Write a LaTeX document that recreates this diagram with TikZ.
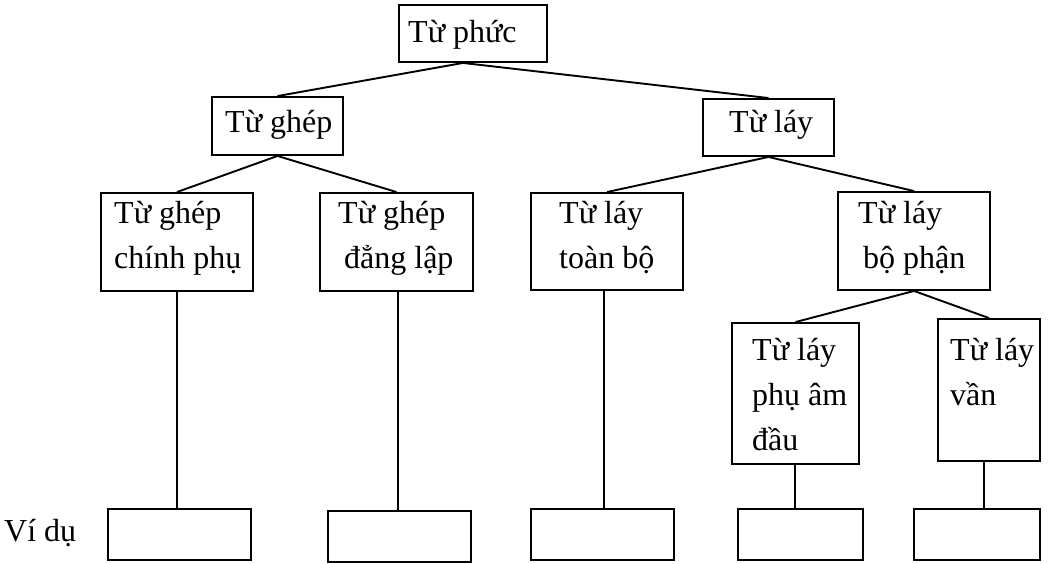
\documentclass[tikz,border=0pt]{standalone}
\usepackage{fontspec}
\setmainfont{Liberation Serif}
\usetikzlibrary{calc}
\begin{document}
\begin{tikzpicture}[x=1pt,y=-1pt,
  box/.style={draw, rectangle, inner sep=0pt, line width=1.9pt},
  txt/.style={inner sep=0pt, anchor=base west, align=left, font=\fontsize{32}{44.8}\selectfont},
  link/.style={line width=1.9pt}]
\useasboundingbox (0,0) rectangle (1062,564);
% boxes
\node[box, minimum width=148pt, minimum height=57pt] (tp) at (473,33.5) {};
\node[box, minimum width=131pt, minimum height=58pt] (tg) at (277.5,126) {};
\node[box, minimum width=131pt, minimum height=57pt] (tl) at (768.5,127.5) {};
\node[box, minimum width=152pt, minimum height=98pt] (cp) at (177,242) {};
\node[box, minimum width=153pt, minimum height=98pt] (dl) at (396.5,242) {};
\node[box, minimum width=152pt, minimum height=97pt] (tb) at (607,241.5) {};
\node[box, minimum width=152pt, minimum height=98pt] (bp) at (914,241) {};
\node[box, minimum width=127pt, minimum height=141pt] (pa) at (795.5,393.5) {};
\node[box, minimum width=102pt, minimum height=142pt] (va) at (989,390) {};
\node[box, minimum width=143pt, minimum height=51pt] (e1) at (179.5,534.5) {};
\node[box, minimum width=143pt, minimum height=51pt] (e2) at (399.5,536.5) {};
\node[box, minimum width=143pt, minimum height=51pt] (e3) at (602.5,534.5) {};
\node[box, minimum width=125pt, minimum height=51pt] (e4) at (800.5,534.5) {};
\node[box, minimum width=126pt, minimum height=51pt] (e5) at (977,534.5) {};
% texts (anchor = baseline of the last line)
\node[txt] (ttp) at (408,42.5) {Từ phức};
\node[txt] (ttg) at (225,132.5) {Từ ghép};
\node[txt] (ttl) at (729,133) {Từ láy};
\node[txt] (tcp) at (114,268) {Từ ghép\\chính phụ};
\node[txt] (tdl) at (338,268) {Từ ghép\\\hspace*{6pt}đẳng lập};
\node[txt] (ttb) at (559,268) {Từ láy\\toàn bộ};
\node[txt] (tbp) at (858,268) {Từ láy\\\hspace*{5pt}bộ phận};
\node[txt] (tpa) at (752,450) {Từ láy\\phụ âm\\đầu};
\node[txt] (tva) at (950,405) {Từ láy\\vần};
\node[txt] (vd) at (4,541.7) {Ví dụ};
% connectors
\draw[link] ($(tp.south)+(-10,0)$) -- (tg.north);
\draw[link] ($(tp.south)+(-10,0)$) -- (tl.north);
\draw[link] (tg.south) -- (cp.north);
\draw[link] (tg.south) -- (dl.north);
\draw[link] (tl.south) -- (tb.north);
\draw[link] (tl.south) -- (bp.north);
\draw[link] (bp.south) -- (pa.north);
\draw[link] (bp.south) -- (va.north);
\draw[link] (cp.south) -- (cp.south |- e1.north);
\draw[link] ($(dl.south)+(1.5,0)$) -- ($(dl.south |- e2.north)+(1.5,0)$);
\draw[link] ($(tb.south)+(-3,0)$) -- ($(tb.south |- e3.north)+(-3,0)$);
\draw[link] ($(pa.south)+(-0.5,0)$) -- ($(pa.south |- e4.north)+(-0.5,0)$);
\draw[link] ($(va.south)+(-5,0)$) -- ($(va.south |- e5.north)+(-5,0)$);
\end{tikzpicture}
\end{document}
